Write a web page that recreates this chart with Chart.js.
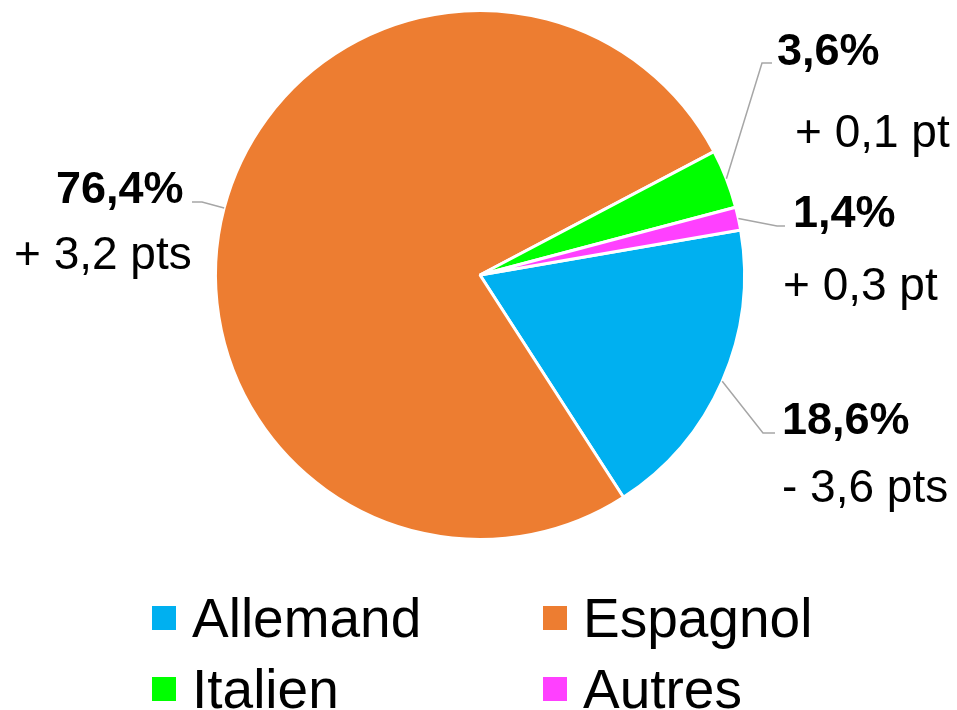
<!DOCTYPE html>
<html lang="fr">
<head>
<meta charset="UTF-8">
<title>Répartition des langues</title>
<script src="https://cdn.jsdelivr.net/npm/chart.js"></script>
<style>
  html, body { margin: 0; padding: 0; background: #fff; }
  #wrap { width: 957px; height: 710px; }
</style>
</head>
<body>
<div id="wrap"><canvas id="myChart" width="957" height="710"></canvas></div>
<script>
// data
const categories = ['Allemand', 'Espagnol', 'Italien', 'Autres'];
const shares = [18.6, 76.4, 3.6, 1.4];
const changes = ['- 3,6 pts', '+ 3,2 pts', '+ 0,1 pt', '+ 0,3 pt'];
const colors = ['#00B0F0', '#ED7D31', '#00FF00', '#FF40FF'];

const FONT = '"Liberation Sans", Arial, sans-serif';

// label placement: elbow of leader line, end of leader, and text anchors
const labelLayout = [
  { elbow: [763, 433], end: [775, 433], pct: [782, 434], chg: [782, 502] },
  { elbow: [202, 202], end: [192, 202], pct: [56, 203], chg: [14, 269] },
  { elbow: [762, 63], end: [772, 63], pct: [777, 65], chg: [795, 147] },
  { elbow: [777, 226], end: [785, 226], pct: [793, 227], chg: [783, 300] }
];

const legendLayout = {
  cols: [152, 543],
  rows: [606, 677],
  box: 24,
  gap: 16,
  font: '55px ' + FONT
};

function fmtPct(v) {
  return v.toFixed(1).replace('.', ',') + '%';
}

const labelsPlugin = {
  id: 'outsideLabels',
  afterDatasetsDraw(chart) {
    const ctx = chart.ctx;
    const arcs = chart.getDatasetMeta(0).data;
    ctx.save();
    arcs.forEach((arc, i) => {
      const p = arc.getProps(['x', 'y', 'startAngle', 'endAngle', 'outerRadius'], true);
      const mid = (p.startAngle + p.endAngle) / 2;
      const ex = p.x + Math.cos(mid) * p.outerRadius;
      const ey = p.y + Math.sin(mid) * p.outerRadius;
      const lay = labelLayout[i];

      // leader line
      ctx.strokeStyle = '#A6A6A6';
      ctx.lineWidth = 1.5;
      ctx.beginPath();
      ctx.moveTo(ex, ey);
      ctx.lineTo(lay.elbow[0], lay.elbow[1]);
      ctx.lineTo(lay.end[0], lay.end[1]);
      ctx.stroke();

      // texts
      ctx.fillStyle = '#000';
      ctx.textAlign = 'left';
      ctx.textBaseline = 'alphabetic';
      ctx.font = 'bold 45px ' + FONT;
      ctx.fillText(fmtPct(shares[i]), lay.pct[0], lay.pct[1]);
      ctx.font = '46px ' + FONT;
      ctx.fillText(changes[i], lay.chg[0], lay.chg[1]);
    });
    ctx.restore();
  }
};

const legendPlugin = {
  id: 'gridLegend',
  afterDraw(chart) {
    const ctx = chart.ctx;
    const L = legendLayout;
    ctx.save();
    categories.forEach((name, i) => {
      const x = L.cols[i % 2];
      const y = L.rows[Math.floor(i / 2)];
      ctx.fillStyle = colors[i];
      ctx.fillRect(x, y, L.box, L.box);
      ctx.fillStyle = '#000';
      ctx.font = L.font;
      ctx.textAlign = 'left';
      ctx.textBaseline = 'alphabetic';
      ctx.fillText(name, x + L.box + L.gap, y + 31);
    });
    ctx.restore();
  }
};

const ctx = document.getElementById('myChart').getContext('2d');
new Chart(ctx, {
  type: 'pie',
  data: {
    labels: categories,
    datasets: [{
      data: shares,
      backgroundColor: colors,
      borderColor: '#FFFFFF',
      borderWidth: 3
    }]
  },
  options: {
    responsive: false,
    animation: false,
    rotation: 80.2,
    layout: { padding: { left: 214, right: 211, top: 9, bottom: 169 } },
    plugins: {
      legend: { display: false },
      tooltip: { enabled: false }
    }
  },
  plugins: [labelsPlugin, legendPlugin]
});
</script>
</body>
</html>
